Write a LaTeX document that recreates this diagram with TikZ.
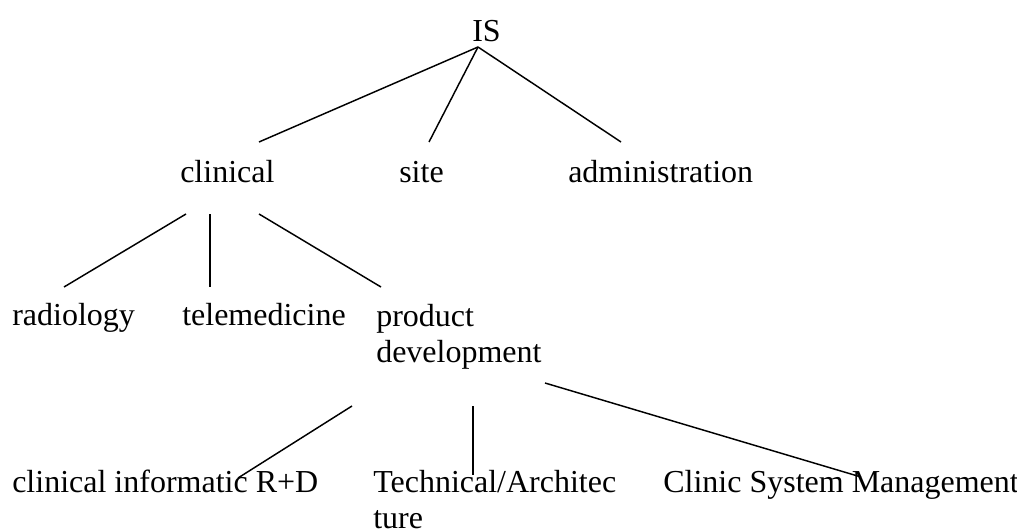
\documentclass[tikz,border=0pt]{standalone}
\usepackage{fontspec}
\setmainfont{Liberation Serif}
\begin{document}
\begin{tikzpicture}[x=0.75pt,y=-0.75pt,
  lbl/.style={inner sep=0pt,anchor=base west,align=left,font=\fontsize{24}{27}\selectfont},
  conn/.style={line width=1.1pt}]
\useasboundingbox[fill=white] (0,0) rectangle (1017,531);
\node[lbl] (is) at (472,42) {IS};
\node[lbl] (clin) at (180,183) {clinical};
\node[lbl] (site) at (399,183) {site};
\node[lbl] (adm) at (568,183) {administration};
\node[lbl] (rad) at (12,325) {radiology};
\node[lbl] (tele) at (182,325) {telemedicine};
\node[lbl] (prod) at (376,362) {product\\development};
\node[lbl] (ci) at (12,492) {clinical informatic R+D};
\node[lbl] (tech) at (373,528) {Technical/Architec\\ture};
\node[lbl] (csm) at (663,492) {Clinic System Management};
\draw[conn] ([shift={(6,5)}]is.base west) -- ([shift={(79,-41)}]clin.base west);
\draw[conn] ([shift={(6,5)}]is.base west) -- ([shift={(30,-41)}]site.base west);
\draw[conn] ([shift={(6,5)}]is.base west) -- ([shift={(53,-41)}]adm.base west);
\draw[conn] ([shift={(6,31)}]clin.base west) -- ([shift={(52,-38)}]rad.base west);
\draw[conn] ([shift={(30,31)}]clin.base west) -- ([shift={(28,-38)}]tele.base west);
\draw[conn] ([shift={(79,31)}]clin.base west) -- ([shift={(5,-75)}]prod.base west);
\draw[conn] ([shift={(-24,44)}]prod.base west) -- ([shift={(226,-14)}]ci.base west);
\draw[conn] ([shift={(97,44)}]prod.base west) -- ([shift={(100,-53)}]tech.base west);
\draw[conn] ([shift={(169,21)}]prod.base west) -- ([shift={(198,-15)}]csm.base west);
\end{tikzpicture}
\end{document}
